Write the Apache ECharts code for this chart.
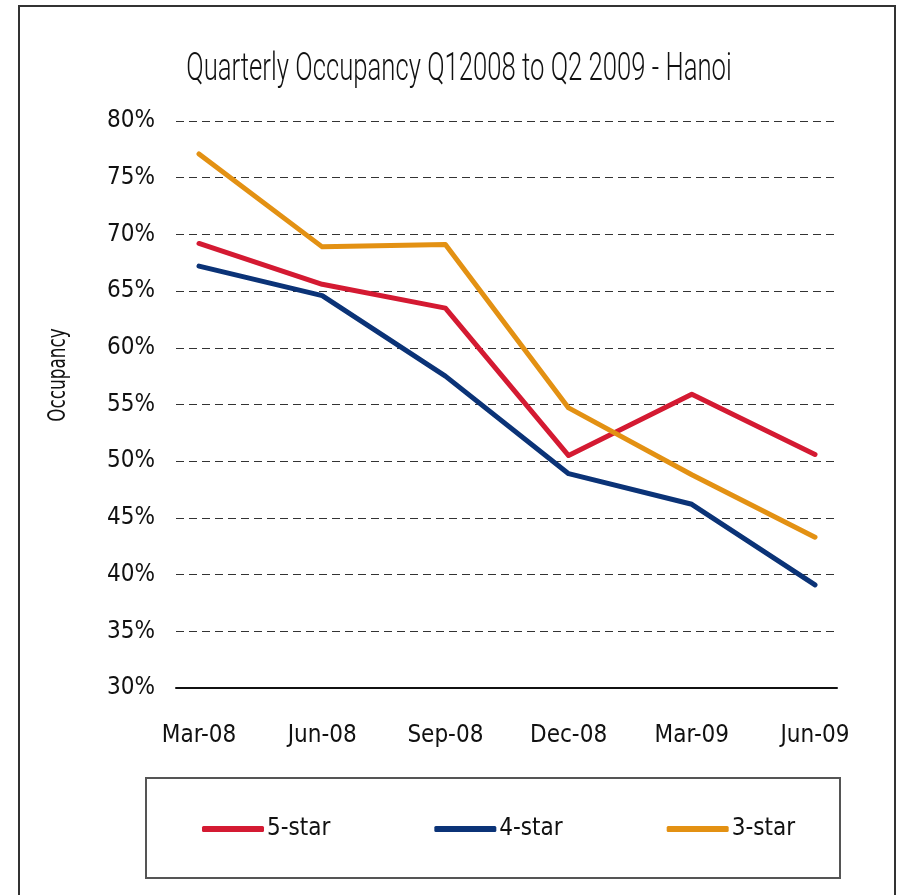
<!DOCTYPE html>
<html>
<head>
<meta charset="utf-8">
<script src="https://cdn.jsdelivr.net/npm/echarts@6/dist/echarts.min.js"></script>
<style>
  html, body { margin: 0; padding: 0; background: #fff; }
  #chart { width: 899px; height: 895px; }
</style>
</head>
<body>
<div id="chart"></div>
<script>
// quarter labels on the x axis
const quarters = ['Mar-08', 'Jun-08', 'Sep-08', 'Dec-08', 'Mar-09', 'Jun-09'];

// occupancy (%)
const fiveStar = [69.2, 65.6, 63.5, 50.5, 55.9, 50.6];
const fourStar = [67.2, 64.6, 57.5, 48.9, 46.2, 39.1];
const threeStar = [77.1, 68.9, 69.1, 54.7, 48.8, 43.3];

const FONT = "'Liberation Sans Narrow', 'DejaVu Sans Condensed', 'Arial Narrow', sans-serif";
const LIGHT_FONT = "Roboto, 'DejaVu Sans Condensed', sans-serif";

const chart = echarts.init(document.getElementById('chart'));

function lineSeries(name, data, color) {
    return {
        name: name,
        type: 'line',
        xAxisIndex: 1,
        yAxisIndex: 1,
        data: data,
        symbol: 'none',
        color: color,
        lineStyle: { color: color, width: 5, cap: 'round', join: 'round' }
    };
}

const option = {
    backgroundColor: '#fff',
    animation: false,
    textStyle: { fontFamily: FONT },
    legend: {
        left: 202,
        top: 817,
        padding: 0,
        itemWidth: 62,
        itemHeight: 6,
        itemGap: 104,
        icon: 'roundRect',
        textStyle: { fontFamily: FONT, fontSize: 24, color: '#111', padding: [0, 0, 0, -2] },
        data: ['5-star', '4-star', '3-star']
    },
    graphic: [
        {
            type: 'rect',
            shape: { x: 19, y: 6, width: 876, height: 900 },
            style: { fill: 'none', stroke: '#333', lineWidth: 2 },
            silent: true
        },
        {
            type: 'rect',
            shape: { x: 146, y: 778, width: 694, height: 100 },
            style: { fill: 'none', stroke: '#555', lineWidth: 2 },
            silent: true
        },
        {
            // title, squeezed to look like the narrow face of the original
            type: 'text',
            x: 459,
            y: 70,
            scaleX: 0.676,
            silent: true,
            style: {
                text: 'Quarterly Occupancy Q12008 to Q2 2009 - Hanoi',
                x: 0,
                y: 0,
                align: 'center',
                verticalAlign: 'middle',
                font: "300 38px " + LIGHT_FONT,
                fill: '#111'
            }
        },
        {
            type: 'text',
            x: 59,
            y: 375,
            rotation: Math.PI / 2,
            scaleX: 0.78,
            silent: true,
            style: {
                text: 'Occupancy',
                x: 0,
                y: 0,
                align: 'center',
                verticalAlign: 'middle',
                font: "24px " + FONT,
                fill: '#111'
            }
        }
    ],
    grid: [
        { left: 176, right: 62, top: 121, bottom: 207 },
        { left: 199, right: 84, top: 121, bottom: 207 }
    ],
    xAxis: [
        {
            gridIndex: 0,
            type: 'value',
            min: 0,
            max: 1,
            axisLine: { show: true, lineStyle: { color: '#111', width: 2 } },
            axisTick: { show: false },
            axisLabel: { show: false },
            splitLine: { show: false }
        },
        {
            gridIndex: 1,
            type: 'category',
            boundaryGap: false,
            data: quarters,
            axisLine: { show: false },
            axisTick: { show: false },
            axisLabel: { fontFamily: FONT, fontSize: 24, color: '#111', margin: 36 },
            splitLine: { show: false }
        }
    ],
    yAxis: [
        {
            gridIndex: 0,
            type: 'value',
            min: 30,
            max: 80,
            interval: 5,
            axisLine: { show: false },
            axisTick: { show: false },
            axisLabel: { fontFamily: FONT, fontSize: 24, color: '#111', margin: 21, formatter: '{value}%' },
            splitLine: { lineStyle: { color: '#333', type: [8, 5], width: 1 } }
        },
        {
            gridIndex: 1,
            type: 'value',
            min: 30,
            max: 80,
            show: false,
            splitLine: { show: false }
        }
    ],
    series: [
        lineSeries('5-star', fiveStar, '#d41a32'),
        lineSeries('4-star', fourStar, '#0b3377'),
        lineSeries('3-star', threeStar, '#e39113')
    ]
};

chart.setOption(option);
</script>
</body>
</html>
